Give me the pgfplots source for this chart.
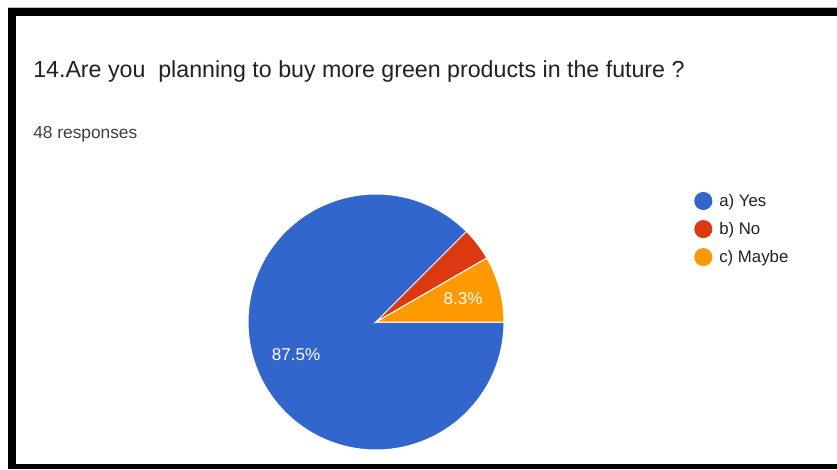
\documentclass[border=0pt]{standalone}
\usepackage{pgfplots}
\usepackage{pgfplotstable}
\pgfplotsset{compat=1.18}
\usepackage{fontspec}
\setmainfont{Liberation Sans}
\definecolor{cyes}{HTML}{3366CC}
\definecolor{cno}{HTML}{DC3912}
\definecolor{cmaybe}{HTML}{FF9900}
\definecolor{ctext}{HTML}{212121}
\definecolor{csub}{HTML}{3C4043}
\pgfplotstableread{
label count
Yes 42
No 2
Maybe 4
}\piedata
\pgfplotstablegetelem{0}{count}\of\piedata \let\nyes\pgfplotsretval
\pgfplotstablegetelem{1}{count}\of\piedata \let\nno\pgfplotsretval
\pgfplotstablegetelem{2}{count}\of\piedata \let\nmaybe\pgfplotsretval
\pgfmathsetmacro\ntot{\nyes+\nno+\nmaybe}
\pgfmathsetmacro\aA{360*\nmaybe/\ntot}
\pgfmathsetmacro\aB{\aA+360*\nno/\ntot}
\def\cx{376}
\def\cy{147}
\def\rr{128}
\begin{document}
\begin{tikzpicture}
\begin{axis}[
  x=0.75pt, y=0.75pt,
  xmin=0, xmax=837, ymin=0, ymax=469,
  hide axis, clip=false,
  legend style={at={(axis cs:694,278)}, anchor=north west, draw=none, fill=none,
    font=\fontsize{12.6}{14}\selectfont, text=ctext, row sep=6.4pt,
    inner sep=0pt, /tikz/every odd column/.append style={column sep=3.2pt}},
  legend cell align=left,
]
\fill[white] (axis cs:0,0) rectangle (axis cs:837,469);
% frame
\fill[black!25] (axis cs:8,461) rectangle (axis cs:837,462);
\fill[black] (axis cs:8,453.3) rectangle (axis cs:837,461.3);
\fill[black] (axis cs:8,0) rectangle (axis cs:16,461.3);
\fill[black] (axis cs:8,0) rectangle (axis cs:837,5.3);

\addplot[fill=cyes, draw=white, line width=0.75pt, domain=\aB:360, samples=150, variable=\t,
  legend image code/.code={\fill[cyes] (0pt,0pt) circle (6.4pt);}]
  ({\cx+\rr*cos(\t)},{\cy+\rr*sin(\t)}) -- (axis cs:\cx,\cy) -- cycle;
\addlegendentry{a) Yes}
\addplot[fill=cno, draw=white, line width=0.75pt, domain=\aA:\aB, samples=12, variable=\t,
  legend image code/.code={\fill[cno] (0pt,0pt) circle (6.4pt);}]
  ({\cx+\rr*cos(\t)},{\cy+\rr*sin(\t)}) -- (axis cs:\cx,\cy) -- cycle;
\addlegendentry{b) No}
\addplot[fill=cmaybe, draw=white, line width=0.75pt, domain=0:\aA, samples=20, variable=\t,
  legend image code/.code={\fill[cmaybe] (0pt,0pt) circle (6.4pt);}]
  ({\cx+\rr*cos(\t)},{\cy+\rr*sin(\t)}) -- (axis cs:\cx,\cy) -- cycle;
\addlegendentry{c) Maybe}

\node[white, font=\fontsize{12.8}{14}\selectfont] at (axis cs:296,114) {87.5\%};
\node[white, font=\fontsize{12.8}{14}\selectfont] at (axis cs:463,170) {8.3\%};

\node[anchor=base west, inner sep=0pt, text=ctext, font=\fontsize{17.4}{20}\selectfont]
  at (axis cs:33,392) {14.Are you~~planning to buy more green products in the future ?};
\node[anchor=base west, inner sep=0pt, text=csub, font=\fontsize{13}{15}\selectfont]
  at (axis cs:33,331) {48 responses};
\end{axis}
\end{tikzpicture}
\end{document}
